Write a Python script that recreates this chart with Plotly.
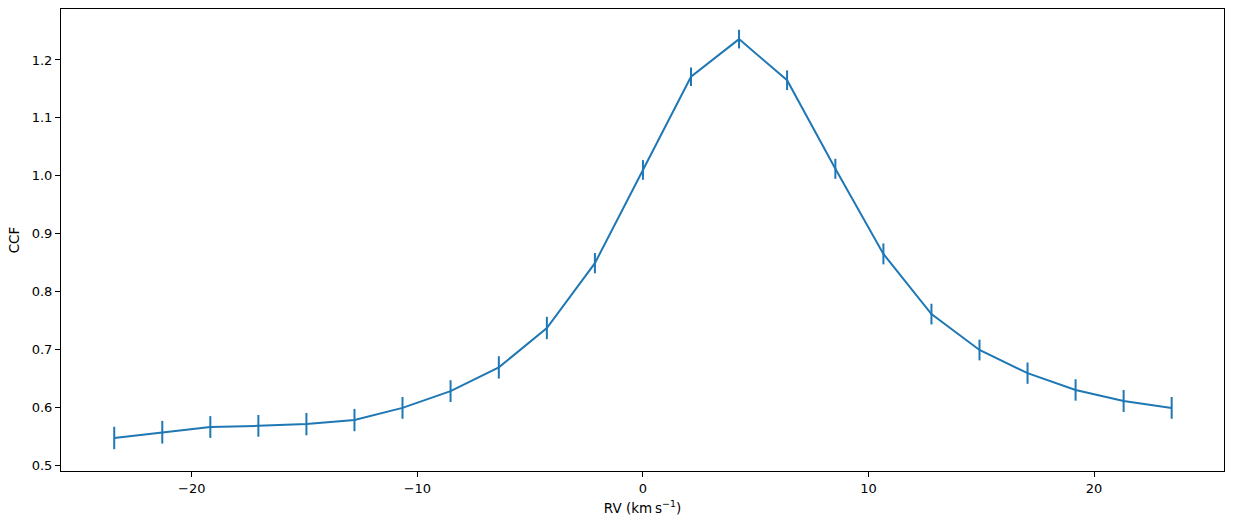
import plotly.graph_objects as go

rv = [-23.44, -21.31, -19.18, -17.05, -14.92, -12.79, -10.66, -8.53, -6.39, -4.26, -2.13,
      0.0, 2.13, 4.26, 6.39, 8.53, 10.66, 12.79, 14.92, 17.05, 19.18, 21.31, 23.44]
ccf = [0.547, 0.557, 0.566, 0.568, 0.571, 0.578, 0.599, 0.628, 0.669, 0.737, 0.849,
       1.010, 1.171, 1.236, 1.165, 1.012, 0.865, 0.761, 0.699, 0.659, 0.630, 0.611, 0.599]
err = [0.0194, 0.0196, 0.0188, 0.0188, 0.0193, 0.0193, 0.0188, 0.0188, 0.0193, 0.0193, 0.0175,
       0.0170, 0.0158, 0.0161, 0.0170, 0.0173, 0.0181, 0.0179, 0.0179, 0.0184, 0.0185, 0.0190, 0.0188]

color = "#1f77b4"
fig = go.Figure()
fig.add_trace(go.Scatter(
    x=rv, y=ccf, mode="lines",
    line=dict(color=color, width=2),
    error_y=dict(type="data", array=err, visible=True, color=color, thickness=2, width=0),
    showlegend=False,
))

axis_common = dict(
    showline=True, linecolor="black", linewidth=1, mirror=True,
    ticks="outside", ticklen=5, tickwidth=1, tickcolor="black",
    showgrid=False, zeroline=False,
    tickfont=dict(family="DejaVu Sans", size=13, color="black"),
)
fig.update_layout(
    width=1233, height=530,
    margin=dict(l=61, r=9, t=9, b=59),
    paper_bgcolor="white", plot_bgcolor="white",
    font=dict(family="DejaVu Sans", size=13, color="black"),
    xaxis=dict(range=[-25.8, 25.76], tickvals=[-20, -10, 0, 10, 20],
               title=dict(text="RV (km\u2009s<sup>\u22121</sup>)", standoff=8,
                          font=dict(family="DejaVu Sans", size=13.5)),
               **axis_common),
    yaxis=dict(range=[0.490, 1.288], tickvals=[0.5, 0.6, 0.7, 0.8, 0.9, 1.0, 1.1, 1.2],
               tickformat=".1f",
               title=dict(text="CCF", standoff=8, font=dict(family="DejaVu Sans", size=13.5)),
               **axis_common),
)
fig.write_html("out.html")
